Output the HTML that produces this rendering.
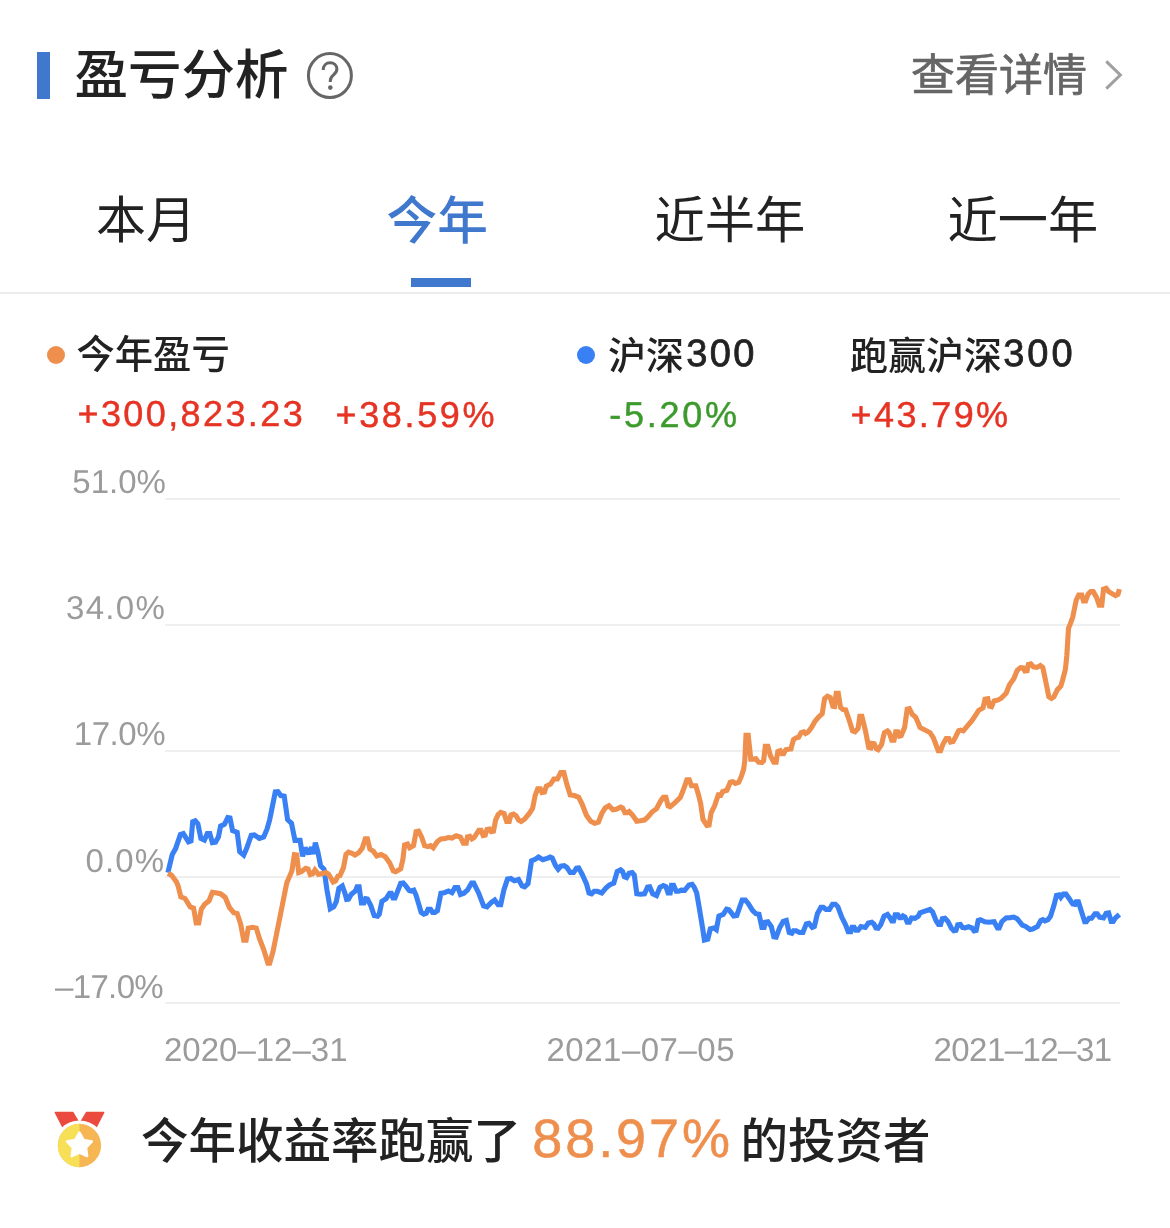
<!DOCTYPE html>
<html lang="zh-CN"><head><meta charset="utf-8"><title>盈亏分析</title>
<meta name="viewport" content="width=1170">
<style>
html,body{margin:0;padding:0;background:#fff}
body{font-family:"Liberation Sans",sans-serif}
#page{position:relative;width:1170px;height:1228px;overflow:hidden;background:#fff;will-change:transform}
.abs,.cjk,.t,.dot{position:absolute;display:block}
.t{line-height:1;white-space:nowrap;text-rendering:geometricPrecision;font-kerning:none}
.dot{width:18px;height:18px;border-radius:50%}
.cjk text{font-family:"Liberation Sans","Noto Sans CJK SC",sans-serif}
</style></head>
<body><div id="page">
<div class="abs" style="left:37px;top:52px;width:13px;height:47px;background:#4078CD"></div>
<svg class="cjk " role="img" aria-label="盈亏分析" style="left:74px;top:46px" width="215" height="55" viewBox="0 0 215 55"><title>盈亏分析</title><text x="0.5" y="48" font-size="53.5" font-weight="500" fill="#222222">盈亏分析</text></svg>
<svg class="abs" style="left:304px;top:49px" width="52" height="52" viewBox="0 0 52 52"><title>help</title><ellipse cx="25.900" cy="26.600" rx="21.500" ry="22.000" fill="none" stroke="#666666" stroke-width="3"/><path d="M19.200 21c0-4.300 3-7.200 6.900-7.200 4 0 6.800 2.700 6.800 6.200 0 2.900-1.600 4.500-3.600 6.200-1.900 1.600-3 2.900-3 5.500v1.300" fill="none" stroke="#666666" stroke-width="3" stroke-linejoin="round"/><circle cx="26.300" cy="38.600" r="2.300" fill="#666666"/></svg>
<svg class="cjk " role="img" aria-label="查看详情" style="left:910px;top:51px" width="178" height="46" viewBox="0 0 178 46"><title>查看详情</title><text x="1" y="40" font-size="44" fill="#666666" stroke="#666666" stroke-width="0.7" stroke-linejoin="round">查看详情</text></svg>
<svg class="abs" style="left:1100px;top:56px" width="28" height="38" viewBox="0 0 28 38"><path d="M6.300 5.400 20.300 19 6.300 32.600" fill="none" stroke="#a0a0a0" stroke-width="3.1"/></svg>
<svg class="cjk " role="img" aria-label="本月" style="left:95px;top:193px" width="96" height="52" viewBox="0 0 96 52"><title>本月</title><text x="1" y="45" font-size="50" fill="#222222">本月</text></svg>
<svg class="cjk " role="img" aria-label="今年" style="left:386px;top:193px" width="102" height="52" viewBox="0 0 102 52"><title>今年</title><text x="0.5" y="45.5" font-size="50.7" font-weight="500" fill="#4078CD">今年</text></svg>
<svg class="cjk " role="img" aria-label="近半年" style="left:654px;top:193px" width="152" height="52" viewBox="0 0 152 52"><title>近半年</title><text x="0.5" y="45" font-size="50.3" fill="#222222">近半年</text></svg>
<svg class="cjk " role="img" aria-label="近一年" style="left:947px;top:193px" width="151" height="52" viewBox="0 0 151 52"><title>近一年</title><text x="0.5" y="45" font-size="50.2" fill="#222222">近一年</text></svg>
<div class="abs" style="left:411px;top:278px;width:60px;height:9px;background:#4078CD"></div>
<div class="abs" style="left:0;top:292px;width:1170px;height:2px;background:#ececec"></div>
<div class="dot" style="left:47px;top:346px;background:#EE8F4E"></div>
<svg class="cjk " role="img" aria-label="今年盈亏" style="left:76px;top:333px" width="154" height="41" viewBox="0 0 154 41"><title>今年盈亏</title><text x="0.5" y="35" font-size="38.3" font-weight="500" fill="#222222">今年盈亏</text></svg>
<span class="t " style="left:77.5px;top:396.13px;font-size:36px;color:#E63323;letter-spacing:2.4px;-webkit-text-stroke:0.45px #E63323">+300,823.23</span>
<span class="t " style="left:335.5px;top:396.73px;font-size:36px;color:#E63323;letter-spacing:2.65px;-webkit-text-stroke:0.45px #E63323">+38.59%</span>
<div class="dot" style="left:577px;top:346px;background:#3880F4"></div>
<svg class="cjk " role="img" aria-label="沪深" style="left:607px;top:334px" width="79" height="40" viewBox="0 0 79 40"><title>沪深</title><text x="1" y="34.5" font-size="38" font-weight="500" fill="#222222">沪深</text></svg>
<span class="t " style="left:686.3px;top:335.23px;font-size:38px;color:#222222;letter-spacing:2.3px;-webkit-text-stroke:0.8px #222222">300</span>
<span class="t " style="left:609.3px;top:396.93px;font-size:36px;color:#3D9A2D;letter-spacing:2.75px;-webkit-text-stroke:0.45px #3D9A2D">-5.20%</span>
<svg class="cjk " role="img" aria-label="跑赢沪深" style="left:849px;top:334px" width="154" height="40" viewBox="0 0 154 40"><title>跑赢沪深</title><text x="1" y="34.5" font-size="38" font-weight="500" fill="#222222">跑赢沪深</text></svg>
<span class="t " style="left:1003.2px;top:335.23px;font-size:38px;color:#222222;letter-spacing:3.0px;-webkit-text-stroke:0.8px #222222">300</span>
<span class="t " style="left:850.6px;top:396.83px;font-size:36px;color:#E63323;letter-spacing:2.4px;-webkit-text-stroke:0.45px #E63323">+43.79%</span>
<div class="abs" style="left:165px;top:498px;width:955px;height:2px;background:#efefef"></div>
<span class="t ax" style="left:72.3px;top:465.07px;font-size:33px;color:#9b9b9b">51.0%</span>
<div class="abs" style="left:165px;top:624px;width:955px;height:2px;background:#efefef"></div>
<span class="t ax" style="left:66.0px;top:591.27px;font-size:33px;color:#9b9b9b;letter-spacing:1.3px">34.0%</span>
<div class="abs" style="left:165px;top:750px;width:955px;height:2px;background:#efefef"></div>
<span class="t ax" style="left:73.8px;top:717.47px;font-size:33px;color:#9b9b9b;letter-spacing:-0.45px">17.0%</span>
<div class="abs" style="left:165px;top:876px;width:955px;height:2px;background:#efefef"></div>
<span class="t ax" style="left:85.4px;top:843.67px;font-size:33px;color:#9b9b9b;letter-spacing:1.2px">0.0%</span>
<div class="abs" style="left:165px;top:1002px;width:955px;height:2px;background:#efefef"></div>
<span class="t ax" style="left:55.0px;top:969.87px;font-size:33px;color:#9b9b9b;letter-spacing:-0.65px">–17.0%</span>
<svg class="abs" style="left:0;top:460px" width="1170" height="560" viewBox="0 460 1170 560"><title>今年盈亏 vs 沪深300</title><polyline points="167.9,872.6 172.2,854.6 175.6,848.6 180.4,834.6 183.3,833.6 188.5,841.8 191.0,840.9 192.7,821.8 195.3,820.8 197.9,823.8 200.9,838.4 204.4,840.1 207.3,833.6 209.8,833.6 212.4,842.6 215.5,842.1 218.4,837.0 220.6,826.1 224.4,824.4 227.8,817.5 230.0,817.9 232.6,830.7 237.2,832.4 239.7,851.7 243.7,855.1 246.6,848.6 251.2,835.3 254.3,835.0 259.4,838.4 263.7,837.0 267.1,829.0 269.7,819.6 275.3,791.9 277.9,791.7 280.8,795.6 284.2,796.2 287.6,819.6 291.5,823.3 295.0,840.4 300.1,840.4 302.6,856.3 305.2,847.8 308.6,854.1 311.5,847.3 313.8,853.8 315.3,842.6 317.9,852.1 320.6,865.7 324.0,869.1 326.9,889.7 330.3,908.8 333.8,906.8 336.3,901.6 338.9,888.3 342.3,885.9 344.9,893.1 346.6,899.4 348.5,899.1 351.1,894.4 355.4,891.0 357.1,886.8 359.1,886.8 361.4,903.0 363.9,903.0 365.6,898.7 367.4,899.1 370.8,905.6 374.2,915.5 377.6,916.2 379.3,914.1 381.9,901.3 386.2,898.7 389.6,893.2 391.3,893.2 393.0,897.9 395.0,897.9 400.7,883.3 403.2,883.0 405.8,885.9 409.2,890.5 411.5,891.0 413.8,890.2 416.1,895.3 421.2,912.4 423.8,914.1 426.3,913.2 428.0,909.3 430.6,909.3 432.6,912.4 434.9,912.4 437.4,910.7 440.9,893.2 444.3,892.7 448.5,891.0 452.0,892.7 454.9,887.6 457.9,887.6 460.5,894.4 463.9,893.2 467.4,890.2 471.6,883.0 473.7,883.0 478.5,892.7 483.6,905.9 487.0,906.9 491.3,902.5 494.7,900.1 498.1,904.7 500.7,904.7 503.8,890.2 507.5,879.1 510.9,878.5 514.4,880.8 518.6,879.6 522.1,885.9 524.6,886.8 528.0,883.7 531.5,860.8 535.1,859.3 538.5,857.1 542.8,859.7 547.1,858.3 550.2,857.1 552.2,857.9 555.6,865.6 558.2,869.1 560.8,866.2 564.2,865.6 566.8,867.4 570.2,872.5 573.6,872.5 576.5,868.2 578.7,867.9 582.1,874.2 586.4,883.6 589.0,893.0 591.5,893.8 594.1,891.3 597.5,891.3 601.8,893.0 606.1,887.9 609.5,885.0 613.8,883.2 617.2,871.6 620.6,869.9 622.6,871.6 624.4,876.8 626.6,877.6 629.1,873.3 632.2,872.5 634.3,875.0 636.8,893.8 640.3,894.2 644.5,893.8 647.6,887.0 649.7,886.7 652.7,893.8 656.5,895.6 659.9,887.4 663.3,885.6 665.9,886.7 668.1,893.0 670.2,893.0 671.5,885.3 673.6,885.3 676.2,891.3 678.7,891.3 681.3,890.1 684.7,890.4 689.0,885.0 692.1,884.4 694.1,887.0 696.7,893.0 699.2,907.5 702.6,928.0 704.4,940.0 707.8,939.1 710.3,928.9 713.8,928.0 716.3,929.7 718.9,916.1 723.2,914.4 726.6,909.2 728.9,909.7 733.7,915.9 736.8,915.4 742.2,900.0 745.3,900.0 748.2,903.4 752.5,910.3 755.9,913.7 759.0,914.2 761.9,927.4 764.1,927.4 765.3,922.2 767.9,921.7 771.3,926.5 773.8,936.8 776.1,937.1 779.8,927.4 783.2,921.4 786.3,920.5 789.2,932.5 791.8,933.3 793.5,930.8 796.1,930.8 799.5,932.5 802.9,932.5 806.3,923.9 808.9,923.4 812.3,927.4 814.4,926.5 817.4,913.7 820.9,907.4 823.4,907.4 826.0,909.4 829.4,909.4 832.5,904.3 835.4,904.3 837.9,906.8 841.7,917.1 845.6,924.8 848.2,931.6 850.8,931.6 852.0,927.4 854.2,927.4 855.9,930.3 858.1,930.3 861.0,926.5 865.3,927.4 868.4,923.1 871.8,922.2 873.8,923.9 875.9,927.9 878.1,928.2 880.7,924.8 884.1,916.2 887.5,914.5 890.1,917.9 891.8,921.0 893.5,921.0 895.2,914.9 897.8,914.9 899.5,917.6 901.2,917.6 902.9,915.9 905.0,917.1 907.2,922.2 909.4,922.2 911.5,917.9 914.9,918.3 918.3,916.2 920.0,912.8 930.0,909.4 932.6,912.0 936.0,920.5 938.5,924.4 940.6,924.4 942.3,918.8 945.0,918.3 947.9,921.4 951.4,928.2 953.9,930.8 956.0,930.3 957.7,924.8 960.4,924.4 962.5,927.4 965.0,927.9 968.5,926.8 971.9,927.9 974.1,930.8 976.2,930.3 978.2,920.5 980.4,919.7 984.7,921.7 989.0,922.2 994.1,921.7 997.5,927.9 999.2,927.9 1001.8,921.7 1006.1,917.9 1010.3,917.6 1013.8,917.1 1017.2,918.8 1022.3,925.1 1025.7,926.5 1030.0,929.6 1032.6,929.1 1037.4,926.5 1040.8,920.5 1042.8,919.7 1044.9,921.0 1047.9,919.7 1050.5,916.2 1053.9,905.6 1056.5,895.4 1059.1,894.9 1060.8,897.4 1063.3,894.0 1065.9,894.0 1069.3,898.8 1072.7,903.9 1075.0,904.3 1076.2,901.7 1078.4,901.7 1081.3,911.1 1084.7,921.7 1086.4,921.7 1089.0,918.3 1091.5,918.3 1095.0,913.7 1097.2,913.7 1099.6,917.1 1103.5,917.9 1106.1,913.2 1108.6,912.8 1111.2,921.4 1113.2,921.4 1115.5,917.9 1119.4,914.5" fill="none" stroke="#3880F4" stroke-width="5.1" stroke-linejoin="miter" stroke-miterlimit="2.2" stroke-linecap="butt"/><polyline points="167.9,873.4 171.4,875.1 176.5,882.0 178.2,886.2 180.8,896.8 185.0,898.5 190.2,906.8 193.6,908.1 196.2,923.0 198.7,923.0 201.3,909.3 204.7,904.2 209.0,900.8 212.4,892.2 215.8,892.7 220.9,893.9 225.2,897.4 229.5,907.6 233.8,912.7 237.2,913.6 240.6,923.8 243.7,940.1 246.1,940.1 248.3,928.1 252.6,927.3 256.3,928.1 259.4,938.4 263.7,949.5 267.9,963.2 269.7,963.2 273.1,951.2 286.8,882.8 291.9,870.9 294.4,854.6 296.7,855.0 298.7,872.6 301.3,871.7 305.6,868.3 308.1,869.1 310.3,874.6 312.7,873.9 315.0,870.0 318.4,874.3 322.6,873.4 326.1,872.6 328.6,874.3 333.2,882.0 335.5,881.1 338.0,876.0 340.0,875.6 343.4,867.9 346.0,854.3 348.5,852.2 352.0,853.4 355.0,855.1 358.8,852.6 362.2,848.3 365.3,838.9 367.4,838.9 369.9,849.1 373.3,851.2 376.8,856.0 381.0,854.6 385.3,856.8 389.6,862.8 393.3,871.0 395.6,871.7 400.7,868.8 402.9,859.4 404.6,844.9 407.5,844.0 409.7,847.8 413.5,845.7 416.1,831.7 418.6,831.2 421.7,837.2 424.6,845.7 428.0,846.6 430.6,845.7 433.2,847.8 437.4,841.5 440.9,838.9 445.1,838.5 448.5,837.5 452.0,838.0 456.2,835.8 460.5,837.2 463.4,843.2 466.2,843.2 467.4,836.8 469.9,836.3 472.0,838.9 474.2,837.5 478.8,830.3 481.0,830.3 483.2,835.5 485.3,835.1 487.0,829.5 489.6,829.0 491.3,831.7 493.5,831.2 495.6,820.1 498.1,814.6 500.7,812.4 504.1,813.6 506.7,821.5 509.2,821.5 510.9,815.0 513.5,814.1 516.1,815.8 518.6,820.1 521.2,821.5 524.6,819.2 529.7,812.9 532.6,808.4 535.1,795.6 537.7,788.7 540.3,788.7 542.0,792.6 544.5,792.1 546.2,786.2 550.5,784.1 553.9,779.0 557.4,779.0 560.8,772.5 563.8,772.5 566.8,784.1 570.2,795.0 574.4,795.6 578.7,797.3 582.1,804.1 586.4,815.2 590.7,821.2 594.6,823.2 598.4,822.1 601.8,813.5 605.2,808.0 609.0,805.8 612.9,809.7 616.3,809.2 620.6,807.0 622.6,808.0 624.9,812.6 627.4,812.6 629.1,811.5 632.6,815.2 636.8,821.2 640.3,820.7 644.5,820.0 647.9,816.9 652.2,811.8 656.5,808.7 660.8,800.7 663.3,797.3 665.9,797.3 668.1,805.8 670.2,806.7 675.3,802.4 680.4,797.3 683.8,788.7 686.9,779.7 689.3,779.7 691.5,785.8 695.8,785.8 698.4,794.4 700.6,803.2 703.0,819.5 706.9,825.5 709.1,825.1 711.2,812.6 714.6,805.8 718.9,793.0 720.0,796.8 722.6,791.6 726.8,790.3 730.3,782.2 732.8,781.7 735.4,783.4 738.8,782.2 741.4,776.2 743.6,769.4 744.8,760.9 746.0,735.2 748.2,735.2 750.8,759.1 753.3,759.1 755.9,758.8 758.5,762.2 761.9,762.6 763.6,760.9 765.3,746.3 767.9,746.3 770.4,755.7 773.8,762.2 776.1,762.2 777.8,751.5 780.2,750.6 781.9,753.7 783.6,753.7 785.8,749.7 788.4,749.2 790.9,748.9 793.5,739.5 796.1,737.8 798.6,737.3 801.2,732.6 803.8,731.8 805.5,733.5 808.0,732.1 811.5,727.5 814.9,721.5 818.3,717.3 822.2,713.8 824.6,698.5 827.4,696.2 830.3,697.6 832.8,706.2 834.5,706.5 836.2,693.3 838.3,693.3 840.5,707.5 843.1,709.6 845.6,709.9 849.1,719.8 852.5,730.9 855.0,731.8 858.1,728.4 859.8,716.4 861.9,716.4 865.3,730.1 868.7,747.5 870.8,748.0 872.1,743.4 874.2,743.8 876.4,748.9 878.1,749.7 881.5,744.6 884.4,732.6 887.5,730.9 889.2,732.6 891.8,740.3 894.0,740.3 895.7,731.8 897.8,731.8 899.5,736.1 901.2,735.6 904.6,727.5 907.2,709.2 909.4,708.7 912.3,714.4 915.7,717.3 918.3,723.2 920.0,727.5 930.0,732.6 933.4,737.8 938.2,750.6 940.6,750.6 942.8,744.6 946.2,738.6 948.8,738.6 950.5,742.1 953.1,741.5 955.6,736.9 958.7,730.6 960.8,730.1 963.3,730.9 966.8,726.7 971.9,720.7 975.3,715.6 978.7,710.4 983.0,707.9 985.0,699.3 987.8,698.8 989.5,706.2 991.5,706.7 994.1,701.0 997.5,700.2 1000.9,698.5 1006.1,693.3 1009.5,684.8 1013.8,678.8 1017.2,670.3 1020.6,667.7 1023.2,668.0 1024.9,671.1 1027.1,670.8 1028.3,664.6 1030.9,663.9 1033.4,666.8 1036.8,667.4 1040.3,665.6 1042.8,667.4 1045.4,679.7 1048.8,696.8 1051.4,698.5 1053.9,696.8 1057.4,689.6 1060.8,686.2 1062.5,680.5 1065.4,669.4 1066.8,655.7 1068.5,628.4 1070.2,624.1 1072.7,617.3 1076.2,600.2 1078.7,595.0 1081.8,595.0 1083.5,601.0 1085.6,601.0 1088.1,594.2 1090.7,591.6 1093.2,591.6 1096.7,597.6 1099.2,605.3 1101.8,605.3 1103.5,589.1 1106.1,588.2 1108.6,591.6 1115.5,595.6 1118.0,594.2 1119.4,589.1" fill="none" stroke="#EE8F4E" stroke-width="5.1" stroke-linejoin="miter" stroke-miterlimit="2.2" stroke-linecap="butt"/></svg>
<span class="t ax" style="left:164px;top:1033.07px;font-size:33px;color:#9b9b9b">2020–12–31</span>
<span class="t ax" style="left:546.5px;top:1033.07px;font-size:33px;color:#9b9b9b;letter-spacing:0.5px">2021–07–05</span>
<span class="t ax" style="left:933.5px;top:1033.07px;font-size:33px;color:#9b9b9b;letter-spacing:-0.55px">2021–12–31</span>
<svg class="abs" style="left:50px;top:1105px" width="60" height="70" viewBox="50 1105 60 70"><title>medal</title><g fill="#EB4B3F" stroke="#EB4B3F" stroke-width="1.2" stroke-linejoin="round"><path d="M55.200 1112.400H72.900L88 1138H68.300z"/><path d="M103.800 1112.400H86.500L71 1138H90.700z"/></g><circle cx="79.45" cy="1146.6" r="26.1" fill="#fff"/><circle cx="79.450" cy="1145.500" r="21.650" fill="#F5B653"/><path d="M79.450 1123.850a21.650 21.650 0 0 0 0 43.300z" fill="#F7DF58"/><path d="M79.45 1132.45L83.56 1139.89L91.91 1141.50L86.11 1147.71L87.15 1156.15L79.45 1152.55L71.75 1156.15L72.79 1147.71L66.99 1141.50L75.34 1139.89z" fill="#fff" stroke="#fff" stroke-width="2.4" stroke-linejoin="round"/></svg>
<svg class="cjk " role="img" aria-label="今年收益率跑赢了" style="left:141px;top:1115px" width="377" height="49" viewBox="0 0 377 49"><title>今年收益率跑赢了</title><text x="0" y="42.5" font-size="47.5" font-weight="500" fill="#222222">今年收益率跑赢了</text></svg>
<span class="t " style="left:532.3px;top:1112.49px;font-size:54px;color:#EE8F4E;letter-spacing:2.9px;-webkit-text-stroke:0.5px #EE8F4E">88.97%</span>
<svg class="cjk " role="img" aria-label="的投资者" style="left:740px;top:1115px" width="192" height="49" viewBox="0 0 192 49"><title>的投资者</title><text x="0.5" y="42.5" font-size="47.5" font-weight="500" fill="#222222">的投资者</text></svg>
</div></body></html>
